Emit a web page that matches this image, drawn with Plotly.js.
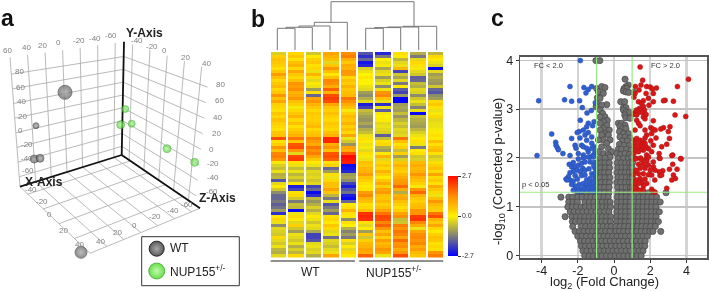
<!DOCTYPE html>
<html><head><meta charset="utf-8">
<script src="https://cdn.plot.ly/plotly-3.0.1.min.js"></script>
<style>html,body{margin:0;padding:0;background:#fff}#c{width:709px;height:291px;filter:blur(0.35px)}</style></head>
<body><div id="c"></div>
<script>
// ---------- panel b: heatmap values, one array per sample ----------
const wt1=[-.4,.4,.6,.5,.4,.2,.5,1.1,.6,.3,.5,.7,.3,.5,1.2,.6,1,.4,.3,.2,.5,.3,.6,.4,.3,.2,.5,.6,2,.2,.4,1.2,.6,1.4,1.5,1.2,-.1,-.4,-.6,-.2,-.8,-.7,-1.8,-.3,.1,-.5,-1.2,-1.6,-1.6,-1.4,-1.7,-1.5,-1,-2.2,.1,.3,-.2,-1.2,-.3,-.4,-.5,.3,-.3,-.5,-.2,-.7,-.8,-.3];
const wt2=[.3,.5,.2,.6,.8,.3,1,.5,.3,.6,1.2,1.1,1.3,.8,.9,1.2,.6,.4,-.1,.3,.5,.8,.3,.6,.2,.4,.6,.8,1.6,.5,1.9,2,1.2,-.3,2.1,2.2,.2,-.2,-.6,-.2,-.7,-.4,-.8,.1,-2.4,-2,.2,.3,-.5,-1.4,-.6,-.7,-2.6,-.2,.3,.1,-.3,.4,-.5,-1,-.2,-.3,-.5,-.2,-.8,-.4,-.7,.3];
const wt3=[-.5,.1,.4,.5,.2,.3,-.2,.8,.2,-.3,.1,-.2,-1,.2,-1.6,1,1.2,.8,.5,.3,.5,.4,.4,.5,.7,.3,.5,.6,1.4,1.1,.9,1.6,1.3,1.5,1,.5,.1,-.2,-.8,-.3,-.4,-.3,-.5,-.3,-2,-1.6,-2.6,-2.2,-.7,-1.1,-.8,-.4,-.8,-.3,.1,-.2,-.5,-.2,-.3,-.9,-2,-2,-1.8,-.3,-.2,-.4,-.3,-.8];
const wt4=[1,.8,.6,-.3,.5,1.2,.6,.1,.6,1.4,1.3,.9,1.8,.8,2,2.2,2,1,.5,.4,.6,.4,.3,.5,.4,.3,.6,.8,2.4,2.4,.9,1.2,.6,1.9,2,1.8,.2,.4,-1.6,-1,.2,-.2,.3,.6,.6,1,.5,-.7,-1.4,-.2,-1.8,-1.4,-1,-1.6,.2,.3,.1,.5,.3,-.3,-.2,-1.5,-.3,-.4,-.6,-.3,-.2,1];
const wt5=[1.3,1.5,.8,.5,.9,.8,1.2,1.1,.3,.6,.4,.8,.5,.6,.7,1.6,1.3,.9,.6,-.1,.4,.7,.5,.8,.4,.6,.3,1,-.2,-.5,-1.1,1,.9,1.9,2.7,2.6,2.5,-2.6,-2.5,-2.3,-1,-.9,-1.2,-2,-2.4,-1.8,-1.5,-2.4,-2.6,-1.6,.1,.2,.8,.2,.1,-1.2,.2,0,-.8,-1.3,-1,-1.4,.2,-.4,.1,-.3,.3,.1];
const nup1=[-1.8,-2.2,-1.6,-2.5,-2.3,-.4,-.2,0,.1,0,0,-.2,-.3,-1,-1.2,-.8,-.3,-2.4,-2,-.6,-.8,-1,-1.1,-.9,-1.2,-.8,-.6,-.2,.2,.1,-.2,-.1,-.3,.2,-.1,-.2,.6,.5,.7,.8,1.1,.6,.4,.2,.1,.2,1.1,1.4,.8,.6,.2,.3,.6,2.3,2.4,2.3,.2,-.3,.1,-1,.5,-.5,.4,.7,.8,1,.9,1.8];
const nup2=[-2.3,-1.4,0,-.2,-.1,-.9,-.3,-.2,-1,-.4,-.2,-1.2,-.2,1.2,1.4,.6,-.2,-2.2,-.2,-1.7,-.1,0,.1,-.3,-.2,-.3,-.4,-1.7,-.6,.2,.3,-.8,-1,.1,.8,-.3,.3,.5,.3,.8,.4,.1,.5,.9,.4,1,1.1,.6,.5,.7,.4,.6,1,1.6,2.1,2,1.4,1.8,1.2,.6,1,.4,1.1,.7,.9,1.2,1,-.2];
const nup3=[.2,.1,-.7,-.3,-.2,.7,-2,-.5,-.9,-.3,-1.4,.1,-1.7,-2,-1,-2.7,-2.7,-1,-.9,-1,-.6,-1.1,-.7,-.4,-.6,-.3,-.4,-.3,1.6,.6,.2,.4,-.6,.4,-1,-.4,.5,.8,.5,.4,.7,.9,1.1,1.2,1.7,.9,-.8,.8,1,.6,.4,.2,.4,1,1.3,-.6,-.5,1.5,1.2,1.6,1.4,1,1.7,1.2,1.3,.9,1.2,2];
const nup4=[-.8,-1.4,-.3,.3,.2,-.1,-.3,-.5,-1.7,-1.6,-.6,-.8,-.3,-.4,-1.2,-.5,-.2,-.6,-1.3,-.2,-2.6,-.6,-.8,-.9,-1,-.7,-.4,-.2,.1,.2,-.2,-1.4,.1,.2,-.5,-.4,.7,.9,.7,.8,1.2,.8,.6,.4,-.1,1.2,1.7,.8,.5,.4,.6,.7,1.2,1.2,2.2,2.3,1.4,.9,-.2,1,1.3,1.4,1.2,1.4,.9,1.1,.7,.5];
const nup5=[-.7,.3,.1,-.2,-.4,-2.6,-.3,-1,-.8,-1,-1.1,-.5,-1.6,-1.8,-1.2,-1,.3,.5,.2,-.2,-.1,.3,-.3,-.2,-.2,-.1,.1,.2,.1,.6,.2,.5,.7,.2,-.5,-.3,.2,.4,.6,.3,1,.3,.5,.2,.9,.5,.3,-.2,.6,1.2,.7,.5,.4,1.6,2,.8,.5,1,.3,.1,.4,.6,.5,.2,.3,.2,1.2,1.5];
const heatColumns=[wt1,wt2,wt3,wt4,wt5,nup1,nup2,nup3,nup4,nup5];
const colourTicks=[-2.7,0,2.7];

// ---------- panel c: volcano values ----------
const blueX=[-1.86,-2.43,-1.66,-1.23,-1.42,-1.55,-4.16,-2.73,-2.34,-1.9,-1.03,-1.75,-1.25,-1.49,-1.86,-1.42,-1.51,-1.1,-1.18,-1.69,-1.92,-2.03,-3.44,-2.34,-1.88,-1.6,-1.23,-1.42,-3.22,-3.2,-3.13,-3.07,-2.15,-2.1,-1.79,-1.69,-1.51,-1.23,-1.1,-1.97,-2.82,-2.43,-4.25,-1.69,-1.42,-1.14,-1.32,-1.51,-1.05,-1.23,-1.69,-1.42,-1.14,-1.97,-2.25,-2.47,-2.34,-2.15,-1.97,-1.79,-1.6,-1.32,-1.1,-1.73,-2.02,-1.84,-1.6,-2.25,-2.43,-2.15,-2.52,-2.65,-2.43,-2.25,-2.02,-1.79,-1.6,-1.51,-1.23,-1.05,-1.1,-1.05,-1.32,-1.91,-2.15,-2.34,-1.69,-1.51,-1.32,-1.1,-1.05,-1.23,-1.42,-1.69,-1.91,-2.15,-2.25,-1,-1.23,-1.79,-1.97,-2.6,-1.5,-1.12,-1.38,-1.02,-1.15];
const blueY=[3.99,3.46,3.44,3.46,3.4,3.33,3.17,3.19,3.16,3.17,3.13,3.03,2.97,2.92,2.77,2.71,2.64,2.74,2.66,2.57,2.54,2.52,2.49,2.4,2.41,2.47,2.43,2.52,2.32,2.26,2.21,2.17,2.26,2.2,2.26,2.23,2.36,2.3,2.23,2.09,2.09,2.05,2.05,2.06,2.13,2.06,2.02,2.2,2.13,2.2,2,2.02,2.02,1.98,1.91,1.87,1.82,1.82,1.85,1.89,1.92,1.92,1.91,1.79,1.75,1.72,1.75,1.73,1.7,1.64,1.62,1.57,1.55,1.53,1.57,1.64,1.65,1.55,1.68,1.79,1.65,1.55,1.58,1.46,1.43,1.46,1.48,1.45,1.48,1.45,1.38,1.38,1.39,1.38,1.36,1.36,1.34,1.32,1.32,1.32,1.32,1.55,1.34,1.84,1.78,1.7,1.5];
const redX=[1.44,4.11,1.58,3.5,1.18,1.49,1.8,2,2.12,2.34,1.38,1.16,1.77,2.17,1.1,1.9,2.82,2.73,3.28,1.62,1.35,2.17,1.93,1.53,1.62,1.4,1.25,1.47,1.68,1.16,1.35,1.57,1.77,1.07,3.37,3.96,1.62,1.25,1.71,2.17,1.25,1.35,1.44,2.73,3.09,2.58,3,2.03,2.14,1.71,2.27,1.16,2.08,1.8,1.71,3.06,2.32,2.03,2.91,2.63,2.17,2.49,3.24,3.68,2.5,1.62,1.8,2.08,1.9,1.77,1.1,1.25,1.44,1.62,1.16,1.35,1.53,1.1,1.29,1.47,1.16,1.35,1.62,1.1,1.71,1.25,1.47,1.8,1.16,1.9,2.54,3.7,3.19,1.53,1.8,2.17,3.24,1.35,1.62,1.9,2.17,3.06,3.48,2.69,2.5,2.27,2,1.71,1.44,1.22,1.07,1.35,1.62,1.9,2.08,2.54,2.63,3.28,3.39,3.19,2.25,1.71,1.44,1.22,1.53,1.8,1.16,1.35,1.62,1.25,1.16,1.44,1.62,2.08,2.17,2.91,2.27,1.1];
const redY=[3.86,3.61,3.59,3.46,3.46,3.49,3.46,3.45,3.41,3.43,3.39,3.32,3.32,3.32,3.24,3.22,3.18,3.17,3.16,3.17,3.15,3.15,3.08,3.11,3.05,3.01,2.98,2.98,2.98,2.93,2.93,2.93,2.89,2.89,2.88,2.85,2.84,2.88,2.8,2.76,2.77,2.71,2.66,2.62,2.64,2.59,2.54,2.62,2.59,2.57,2.57,2.57,2.5,2.47,2.41,2.4,2.41,2.35,2.28,2.23,2.26,2.09,2.06,1.99,2,2.16,2.06,2.13,2.19,2.23,2.36,2.4,2.36,2.32,2.3,2.3,2.26,2.23,2.21,2.18,2.15,2.13,2.23,2.09,2.3,1.99,2,1.99,1.98,2.02,1.99,1.98,2.05,1.96,1.94,1.92,1.87,1.87,1.87,1.85,1.82,1.77,1.77,1.74,1.72,1.75,1.75,1.79,1.79,1.75,1.66,1.68,1.68,1.66,1.65,1.64,1.65,1.65,1.58,1.55,1.55,1.57,1.58,1.55,1.5,1.48,1.46,1.48,1.43,1.38,1.34,1.34,1.34,1.36,1.31,1.38,1.3,1.39];
const grayUpperX=[-1,-.78,-.96,-.68,-.5,-.86,-.59,-.92,-.77,-.96,-.99,-.4,-.68,-.77,-.63,-.5,-.77,-.37,-.59,-.77,-.4,-.59,-.26,-.77,-.5,-.68,-.31,-.22,-.59,-.86,-.4,-.68,-.31,-.13,-.59,-.86,-.31,-.22,-.77,-.5,.61,.79,.66,.55,.7,.52,.65,.81,1.1,.37,.59,.52,.66,.52,.66,.85,.59,.65,.88,.24,.42,.61,.33,.48,.66,.3,.52,.8,.33,.61,.88,.48,.74,.3,.55,.85,.24,.42,.7,.96,.15,.37,.61,.85,.24,.52,.79,.98];
const grayUpperY=[3.99,3.99,3.42,3.46,3.44,3.35,3.32,3.23,3.22,3.11,3.05,3.09,3.08,2.98,2.91,2.84,2.84,2.77,2.74,2.71,2.67,2.6,2.57,2.57,2.5,2.47,2.47,2.37,2.37,2.37,2.3,2.23,2.19,2.13,2.09,2.13,2.06,2.02,2,2,3.61,3.49,3.46,3.42,3.42,3.37,3.35,3.34,3.34,3.15,3.15,3.03,3.03,2.98,2.94,2.93,2.88,2.82,2.81,2.71,2.71,2.67,2.64,2.6,2.6,2.54,2.5,2.5,2.43,2.43,2.41,2.35,2.35,2.28,2.26,2.26,2.18,2.18,2.18,2.16,2.09,2.07,2.09,2.07,1.99,1.99,1.99,2.02];
const grayRowLevels=[1.9,1.8,1.7,1.6,1.5,1.4,1.29,1.2,1.1,1,.9,.8,.7,.6,.5,.4,.3,.2,.1,0];
const grayRowValues=[
 [-.95,-.72,-.5,-.26,.18,.42,.64,.86,1.02],
 [-.97,-.74,-.48,-.24,.2,.44,.66,.9,1],
 [-.94,-.7,-.52,-.28,.17,.4,.62,.84,1.03],
 [-.98,-.76,-.5,-.23,.21,.43,.68,.88,1],
 [-.93,-.71,-.47,-.25,.16,.38,.63,.85,1.02],
 [-.96,-.73,-.52,-.27,.2,.45,.67,.9,1.01],
 [-2,-1.75,-1.5,-1.25,-1,-.76,-.52,-.28,.2,.44,.68,.92,1.3,1.6,1.9,2.2,2.87],
 [-2.93,-2.5,-2.28,-2,-1.76,-1.5,-1.28,-1.04,-.8,-.56,-.32,.18,.42,.66,.9,1.14,1.38,1.62,1.86,2.1,2.35],
 [-2.5,-2.26,-2.02,-1.6,-1.36,-1.12,-.88,-.64,-.4,-.22,.18,.42,.66,.9,1.14,1.38,1.62,1.86,2.1,2.34,2.55],
 [-2.55,-2.3,-2.06,-1.82,-1.58,-1.34,-1.1,-.86,-.62,-.38,-.2,.16,.4,.64,.88,1.12,1.36,1.6,1.84,2.08,2.32],
 [-2.42,-2.2,-1.96,-1.72,-1.48,-1.24,-1,-.76,-.52,-.28,.16,.4,.64,.88,1.12,1.36,1.6,1.84,2.08,2.32,2.5],
 [-2.7,-2.32,-2.08,-1.84,-1.6,-1.36,-1.12,-.88,-.64,-.4,-.18,.15,.4,.64,.88,1.12,1.36,1.6,1.84,2.08,2.32],
 [-2.3,-2.12,-1.88,-1.64,-1.4,-1.16,-.92,-.68,-.44,-.2,.14,.38,.62,.86,1.1,1.34,1.58,1.82,2.06,2.3,2.45],
 [-2.28,-1.8,-1.56,-1.32,-1.08,-.84,-.6,-.36,-.16,.1,.34,.58,.82,1.06,1.3,1.54,1.78,2.02,2.28],
 [-2.15,-1.9,-1.66,-1.42,-1.18,-.94,-.7,-.46,-.22,.1,.3,.54,.78,1.02,1.26,1.5,1.74,1.98,2.15,2.58],
 [-2,-1.76,-1.52,-1.28,-1.04,-.8,-.56,-.32,-.08,.16,.4,.64,.88,1.12,1.36,1.6,1.84],
 [-1.85,-1.62,-1.4,-1.16,-.92,-.68,-.44,-.2,.04,.28,.52,.76,1,1.24,1.48,1.72],
 [-1.8,-1.58,-1.34,-1.1,-.86,-.62,-.38,-.14,.1,.34,.58,.82,1.06,1.3,1.54,1.7],
 [-1.72,-1.5,-1.26,-1.02,-.78,-.54,-.3,-.06,.18,.42,.66,.9,1.14,1.38,1.6],
 [-1.62,-1.38,-1.14,-.9,-.66,-.42,-.18,.06,.3,.54,.78,1.02,1.26,1.5]
];
const foldCutoffs=[-.96,1];
const pCutoff=1.3;

// ---------- panel a: PCA scores, as positions on the drawn projection ----------
const wtPlaneX=[65,36,34.3,40,81];
const wtPlaneY=[92.3,125.7,159,158.3,252.3];
const wtSizes=[14,6,8,8,12];
const nupPlaneX=[125.3,120.7,131.7,167,194.7];
const nupPlaneY=[109,124.7,123.7,148.7,162.3];
const nupSizes=[7,8,7,8,8];
const xTickValues=[60,40,20,0,-20,-40,-60];
const yTickValues=[80,60,40,20,0,-20,-40,-60];
const zTickValues=[-40,-20,0,20,40];

// ---------- panel a projection geometry ----------
const BACK=[121.7,155],LEFT=[20,186.7],TOPB=[124,41.7],TOPL=[10,57.3];
const RIGHT=[200,208.3],BR=[188.3,201.7],TOPR=[201.7,66.7],FRONT=[90,253.3];
const mix=(a,b,t)=>[a[0]+(b[0]-a[0])*t,a[1]+(b[1]-a[1])*t];
const bil=(p00,p10,p01,p11,u,v)=>mix(mix(p00,p10,u),mix(p01,p11,u),v);
const uX=x=>(60-x)/130, vY=y=>(y+73.6)*.00566, uZ=z=>(z+50)/90;
const leftWall=(u,v)=>bil(LEFT,BACK,TOPL,TOPB,u,v);
const rightWall=(u,v)=>bil(BACK,BR,TOPB,TOPR,u,v);
const floorPt=(u,v)=>bil(BACK,LEFT,RIGHT,FRONT,u,v);
const gx=[],gy=[];
const seg=(a,b)=>{gx.push(a[0],b[0],null);gy.push(a[1],b[1],null)};
xTickValues.forEach(x=>{seg(leftWall(uX(x),0),leftWall(uX(x),1));seg(floorPt(1-uX(x),0),floorPt(1-uX(x),1))});
yTickValues.forEach(y=>{seg(leftWall(0,vY(y)),leftWall(1,vY(y)));seg(rightWall(0,vY(y)),rightWall(1.1,vY(y)))});
zTickValues.forEach(z=>{seg(rightWall(uZ(z),0),rightWall(uZ(z),1));seg(floorPt(0,uZ(z)),floorPt(1,uZ(z)))});

// ---------- dendrogram (merge brackets) ----------
const leaf=[277.3,295,312.3,330,347.3,365.7,383.3,400.7,418.7,436.7];
const dx=[],dy=[];
const merge=(a,ay,b,by,h)=>{dx.push(a,a,b,b,null);dy.push(ay,h,h,by,null)};
merge(leaf[0],50,leaf[1],50,28.3);
merge(286,28.3,leaf[2],50,27.3);
merge(299,27.3,leaf[3],50,26);
merge(314.3,26,leaf[4],50,22.3);
merge(leaf[5],50,leaf[6],50,28.3);
merge(374.5,28.3,leaf[7],50,27.6);
merge(387.6,27.6,leaf[8],50,27);
merge(403,27,leaf[9],50,26.3);
merge(331,22.3,414,26.3,1.7);

const text=(t,x,y,size,color,extra)=>Object.assign({text:t,x:x,y:y,xref:'x',yref:'y',showarrow:false,xanchor:'center',yanchor:'middle',font:{family:'Liberation Sans, Arial, sans-serif',size:size,color:color}},extra||{});
const annos=[
 text('<b>a</b>',7,18,23,'#111'),text('<b>b</b>',258,19,23,'#111'),text('<b>c</b>',497,18,23,'#111'),
 text('<b>Y-Axis</b>',144,33,12,'#222'),text('<b>X-Axis</b>',44,182,12,'#222'),text('<b>Z-Axis</b>',217,198,12,'#222'),
 text('WT',168,248,12,'#222',{xanchor:'left'}),text('NUP155<sup>+/-</sup>',168,271,12,'#222',{xanchor:'left'}),
 text('WT',310.7,272,12,'#222'),text('NUP155<sup>+/-</sup>',394,272,12,'#222'),
 text('FC &lt; 2.0',548,65,7.5,'#333'),text('FC &gt; 2.0',665,65,7.5,'#333'),text('p &lt; 0.05',535.7,184,7.5,'#333'),
 text('log<sub>2</sub> (Fold Change)',604.7,282,13,'#222'),
 text('-log<sub>10</sub> (Corrected p-value)',498,172,13,'#222',{textangle:-90})
];
const tl=[['60',7,50],['40',26,47.7],['20',42.7,45.7],['0',58.3,42.7],['-20',79.3,40],['-40',95,38.3],['-60',111,35.7],
 ['-40',136.7,40.7],['-20',151.7,46],['0',164.3,50.7],['20',185.7,57.3],['40',206,63.3],
 ['80',19,71.7],['60',20,87.3],['40',21.7,101.7],['20',22.7,116.7],['0',20.7,130.7],['-20',26.7,144.3],['-40',27.3,158.3],['-60',28.3,170.7],
 ['-40',30.7,189],['-20',41.7,201],['0',49,214.3],['20',63.3,230],['40',79.3,244.3],
 ['80',220,84],['60',219.3,100],['40',217.3,117.3],['20',216,133.3],['0',211,149],['-20',213.3,163.3],['-40',212.7,177.7],['-60',211.7,191],
 ['40',100,241.7],['20',117.3,232.3],['0',134,225],['-20',155,216.7],['-40',172.7,210],['-60',186.7,204]];
tl.forEach(t=>annos.push(text(t[0],t[1],t[2],8,'#808080')));

const z=[];
for(let r=0;r<heatColumns[0].length;r++)z.push(heatColumns.map(c=>c[r]));
const grayX=grayUpperX.slice(),grayY=grayUpperY.slice();
grayRowLevels.forEach((y,i)=>grayRowValues[i].forEach(x=>{grayX.push(x);grayY.push(y)}));

const W=709,H=291;
const traces=[
 {type:'scatter',mode:'lines',x:gx,y:gy,xaxis:'x',yaxis:'y',line:{color:'#a8a8a8',width:.8},hoverinfo:'skip'},
 {type:'scatter',mode:'lines',x:[LEFT[0],BACK[0],null,TOPB[0],BACK[0],null,BACK[0],RIGHT[0]],y:[LEFT[1],BACK[1],null,TOPB[1],BACK[1],null,BACK[1],RIGHT[1]],xaxis:'x',yaxis:'y',line:{color:'#111',width:1.8},hoverinfo:'skip'},
 {type:'scatter',mode:'markers',x:wtPlaneX,y:wtPlaneY,xaxis:'x',yaxis:'y',marker:{size:wtSizes,color:'#5c5c5c',gradient:{type:'radial',color:'#a0a0a0'},line:{color:'#333',width:.8}}},
 {type:'scatter',mode:'markers',x:nupPlaneX,y:nupPlaneY,xaxis:'x',yaxis:'y',marker:{size:nupSizes,color:'#50d835',gradient:{type:'radial',color:'#a8f090'},line:{color:'#3f9f2e',width:.7}}},
 {type:'scatter',mode:'markers',x:[156.7],y:[248.7],xaxis:'x',yaxis:'y',marker:{size:15,color:'#5c5c5c',gradient:{type:'radial',color:'#a8a8a8'},line:{color:'#222',width:1}}},
 {type:'scatter',mode:'markers',x:[156.7],y:[271],xaxis:'x',yaxis:'y',marker:{size:16,color:'#66e04a',gradient:{type:'radial',color:'#c8f8b0'},line:{color:'#4aa838',width:.8}}},
 {type:'scatter',mode:'lines',x:dx,y:dy,xaxis:'x',yaxis:'y',line:{color:'#777',width:1},hoverinfo:'skip'},
 {type:'scatter',mode:'lines',x:[270.7,355,null,359.3,443.3],y:[261,261,null,261,261],xaxis:'x',yaxis:'y',line:{color:'#222',width:1},hoverinfo:'skip'},
 {type:'heatmap',z:z,xaxis:'x2',yaxis:'y2',zmin:-2.7,zmax:2.7,xgap:2,ygap:0,zsmooth:false,
  colorscale:[[0,'#0000ff'],[.25,'#7f7f78'],[.5,'#fff200'],[.58,'#ffcc00'],[.75,'#ff8c00'],[1,'#ff0a00']],
  colorbar:{x:448/W,xanchor:'left',y:(H-216)/H,yanchor:'middle',len:80,lenmode:'pixels',thickness:10,thicknessmode:'pixels',xpad:0,ypad:0,outlinewidth:0,
   tickmode:'array',tickvals:colourTicks,ticktext:colourTicks.map(v=>v.toFixed(1)),ticks:'outside',ticklen:3,tickcolor:'#333',tickfont:{family:'Liberation Sans',size:7,color:'#333'}}},
 {type:'scatter',mode:'markers',x:grayX,y:grayY,xaxis:'x3',yaxis:'y3',marker:{size:6.2,color:'#707070',line:{color:'#484848',width:.7}}},
 {type:'scatter',mode:'markers',x:blueX,y:blueY,xaxis:'x3',yaxis:'y3',marker:{size:5,color:'#2f5fd0',line:{color:'#2a4fa8',width:.5}}},
 {type:'scatter',mode:'markers',x:redX,y:redY,xaxis:'x3',yaxis:'y3',marker:{size:5,color:'#dc1616',line:{color:'#a51818',width:.5}}},
 {type:'scatter',mode:'lines',x:[foldCutoffs[0],foldCutoffs[0],null,foldCutoffs[1],foldCutoffs[1],null,-5.19,5.15],y:[-.05,4.07,null,-.05,4.07,null,pCutoff,pCutoff],xaxis:'x3',yaxis:'y3',line:{color:'#96ea86',width:1.2},hoverinfo:'skip'}
];
const axfont={family:'Liberation Sans, Arial, sans-serif',size:12.5,color:'#222'};
const layout={width:W,height:H,margin:{l:0,r:0,t:0,b:0},paper_bgcolor:'#fff',plot_bgcolor:'rgba(0,0,0,0)',showlegend:false,
 xaxis:{domain:[0,1],range:[0,W],visible:false,fixedrange:true},
 yaxis:{domain:[0,1],range:[H,0],visible:false,fixedrange:true},
 xaxis2:{domain:[270/W,444/W],range:[-.5,9.5],visible:false,anchor:'y2'},
 yaxis2:{domain:[(H-257.5)/H,(H-52)/H],range:[67.5,-.5],visible:false,anchor:'x2'},
 xaxis3:{domain:[520/W,707.3/W],range:[-5.19,5.15],anchor:'y3',tickvals:[-4,-2,0,2,4],ticktext:['-4','-2','0','2','4'],ticks:'outside',ticklen:3,ticklabelstandoff:-3,tickcolor:'#333',tickfont:axfont,
  showgrid:true,gridcolor:'#d4d4d4',gridwidth:2.5,zeroline:false,showline:true,linecolor:'#555',linewidth:1.4,mirror:true},
 yaxis3:{domain:[(H-258.3)/H,(H-56.7)/H],range:[-.05,4.07],anchor:'x3',tickvals:[0,1,2,3,4],ticks:'outside',ticklen:3,tickcolor:'#333',tickfont:axfont,
  showgrid:true,gridcolor:'#c4c4c4',gridwidth:1.2,zeroline:false,showline:true,linecolor:'#555',linewidth:1.4,mirror:true},
 shapes:[{type:'rect',xref:'x',yref:'y',x0:141.7,x1:239.3,y0:236.7,y1:285.7,line:{color:'#333',width:1},fillcolor:'#fff',layer:'below'}],
 annotations:annos};
Plotly.newPlot('c',traces,layout,{staticPlot:true,displayModeBar:false});
</script></body></html>
